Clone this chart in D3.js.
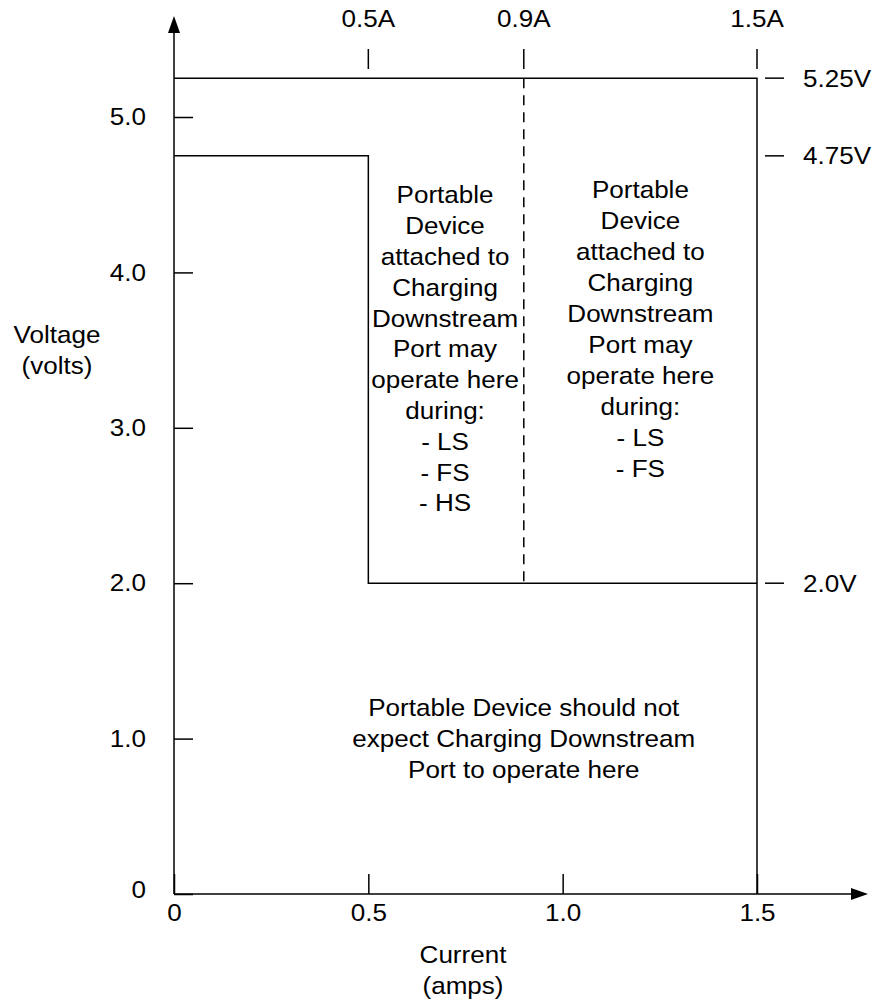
<!DOCTYPE html>
<html>
<head>
<meta charset="utf-8">
<script src="https://cdn.jsdelivr.net/npm/d3@7"></script>
<style>
  html, body { margin: 0; padding: 0; background: #fff; }
  svg text { font-family: "Liberation Sans", Arial, sans-serif; fill: #000; }
</style>
</head>
<body>
<svg id="chart" width="874" height="1003"></svg>
<script>
// ---- data ----
const xTickValues = [0, 0.5, 1.0, 1.5];
const xTickLabels = ["0", "0.5", "1.0", "1.5"];
const yTickValues = [0, 1, 2, 3, 4, 5];
const yTickLabels = ["0", "1.0", "2.0", "3.0", "4.0", "5.0"];
const topMarkCurrents = [0.5, 0.9, 1.5];
const topMarkLabels = ["0.5A", "0.9A", "1.5A"];
const rightMarkVoltages = [5.25, 4.75, 2.0];
const rightMarkLabels = ["5.25V", "4.75V", "2.0V"];
const outerBoundary = [[0, 5.25], [1.5, 5.25], [1.5, 0]];
const innerBoundary = [[0, 4.75], [0.5, 4.75], [0.5, 2.0], [1.5, 2.0]];
const dashedBoundary = [[0.9, 5.25], [0.9, 2.0]];
const leftRegionText = ["Portable", "Device", "attached to", "Charging", "Downstream", "Port may", "operate here", "during:", "- LS", "- FS", "- HS"];
const rightRegionText = ["Portable", "Device", "attached to", "Charging", "Downstream", "Port may", "operate here", "during:", "- LS", "- FS"];
const bottomRegionText = ["Portable Device should not", "expect Charging Downstream", "Port to operate here"];
const xAxisTitle = ["Current", "(amps)"];
const yAxisTitle = ["Voltage", "(volts)"];

// ---- layout ----
const svg = d3.select("#chart");
const FS = 24;
const SX = 1.085; // horizontal stretch of the reference lettering
const x = d3.scaleLinear().domain([0, 1.5]).range([174, 757]);
const y = d3.scaleLinear().domain([0, 5]).range([894, 117]);
const LW = 1.5;

function stretch(sel, ax) {
  sel.attr("transform", `translate(${ax},0) scale(${SX},1) translate(${-ax},0)`);
}

// axes ticks + labels via d3 axes
const yAxis = d3.axisLeft(y)
  .tickValues(yTickValues)
  .tickFormat((d, i) => yTickLabels[i])
  .tickSizeInner(-19).tickSizeOuter(0).tickPadding(28);
const gy = svg.append("g").attr("transform", `translate(${x(0)},0)`).call(yAxis);
gy.select(".domain").remove();
gy.selectAll(".tick line").attr("stroke", "#000").attr("stroke-width", LW);
gy.selectAll(".tick text").attr("font-size", FS).attr("font-family", "Liberation Sans, Arial, sans-serif").attr("fill", "#000")
  .each(function () { stretch(d3.select(this), -28); });
gy.selectAll(".tick").filter(d => d === 0).select("text").attr("dy", "0.14em");

const xAxis = d3.axisBottom(x)
  .tickValues(xTickValues)
  .tickFormat((d, i) => xTickLabels[i])
  .tickSizeInner(-20).tickSizeOuter(0).tickPadding(10);
const gx = svg.append("g").attr("transform", `translate(0,${y(0)})`).call(xAxis);
gx.select(".domain").remove();
gx.selectAll(".tick line").attr("stroke", "#000").attr("stroke-width", LW);
gx.selectAll(".tick text").attr("font-size", FS).attr("font-family", "Liberation Sans, Arial, sans-serif").attr("fill", "#000")
  .each(function () { stretch(d3.select(this), 0); });

// axis lines with arrows
svg.append("line").attr("x1", x(0)).attr("y1", y(0)).attr("x2", x(0)).attr("y2", 28)
  .attr("stroke", "#000").attr("stroke-width", LW);
svg.append("path").attr("d", `M${x(0)},16 L${x(0) - 6},33 L${x(0) + 6},33 Z`).attr("fill", "#000");
svg.append("line").attr("x1", x(0)).attr("y1", y(0)).attr("x2", 856).attr("y2", y(0))
  .attr("stroke", "#000").attr("stroke-width", LW);
svg.append("path").attr("d", `M868,${y(0)} L851,${y(0) - 6} L851,${y(0) + 6} Z`).attr("fill", "#000");

// boundaries
const line = d3.line().x(d => x(d[0])).y(d => y(d[1]));
svg.append("path").attr("d", line(outerBoundary)).attr("fill", "none").attr("stroke", "#000").attr("stroke-width", LW);
svg.append("path").attr("d", line(innerBoundary)).attr("fill", "none").attr("stroke", "#000").attr("stroke-width", LW);
svg.append("path").attr("d", line(dashedBoundary)).attr("fill", "none").attr("stroke", "#000")
  .attr("stroke-width", LW).attr("stroke-dasharray", "10,7");

// top current marks
topMarkCurrents.forEach((c, i) => {
  svg.append("line").attr("x1", x(c)).attr("x2", x(c)).attr("y1", 49).attr("y2", 69)
    .attr("stroke", "#000").attr("stroke-width", LW);
  const t = svg.append("text").attr("x", x(c)).attr("y", 27).attr("text-anchor", "middle")
    .attr("font-size", FS).text(topMarkLabels[i]);
  stretch(t, x(c));
});

// right voltage marks
rightMarkVoltages.forEach((v, i) => {
  svg.append("line").attr("x1", 765).attr("x2", 784).attr("y1", y(v)).attr("y2", y(v))
    .attr("stroke", "#000").attr("stroke-width", LW);
  const t = svg.append("text").attr("x", 803).attr("y", y(v)).attr("dy", "0.35em")
    .attr("font-size", FS).text(rightMarkLabels[i]);
  stretch(t, 803);
});

// multi-line text helper
function block(lines, cx, y0, lh) {
  const t = svg.append("text").attr("text-anchor", "middle").attr("font-size", FS);
  lines.forEach((s, i) => {
    t.append("tspan").attr("x", cx).attr("y", y0 + i * lh).attr("dy", "0.35em").text(s);
  });
  stretch(t, cx);
}
block(leftRegionText, x(0.7) - 1, 195, 30.8);
block(rightRegionText, x(1.2), 190, 31);
block(bottomRegionText, x(0.9), 708, 31);
block(yAxisTitle, 57, 335, 31);
block(xAxisTitle, 463, 955, 31);
</script>
</body>
</html>
